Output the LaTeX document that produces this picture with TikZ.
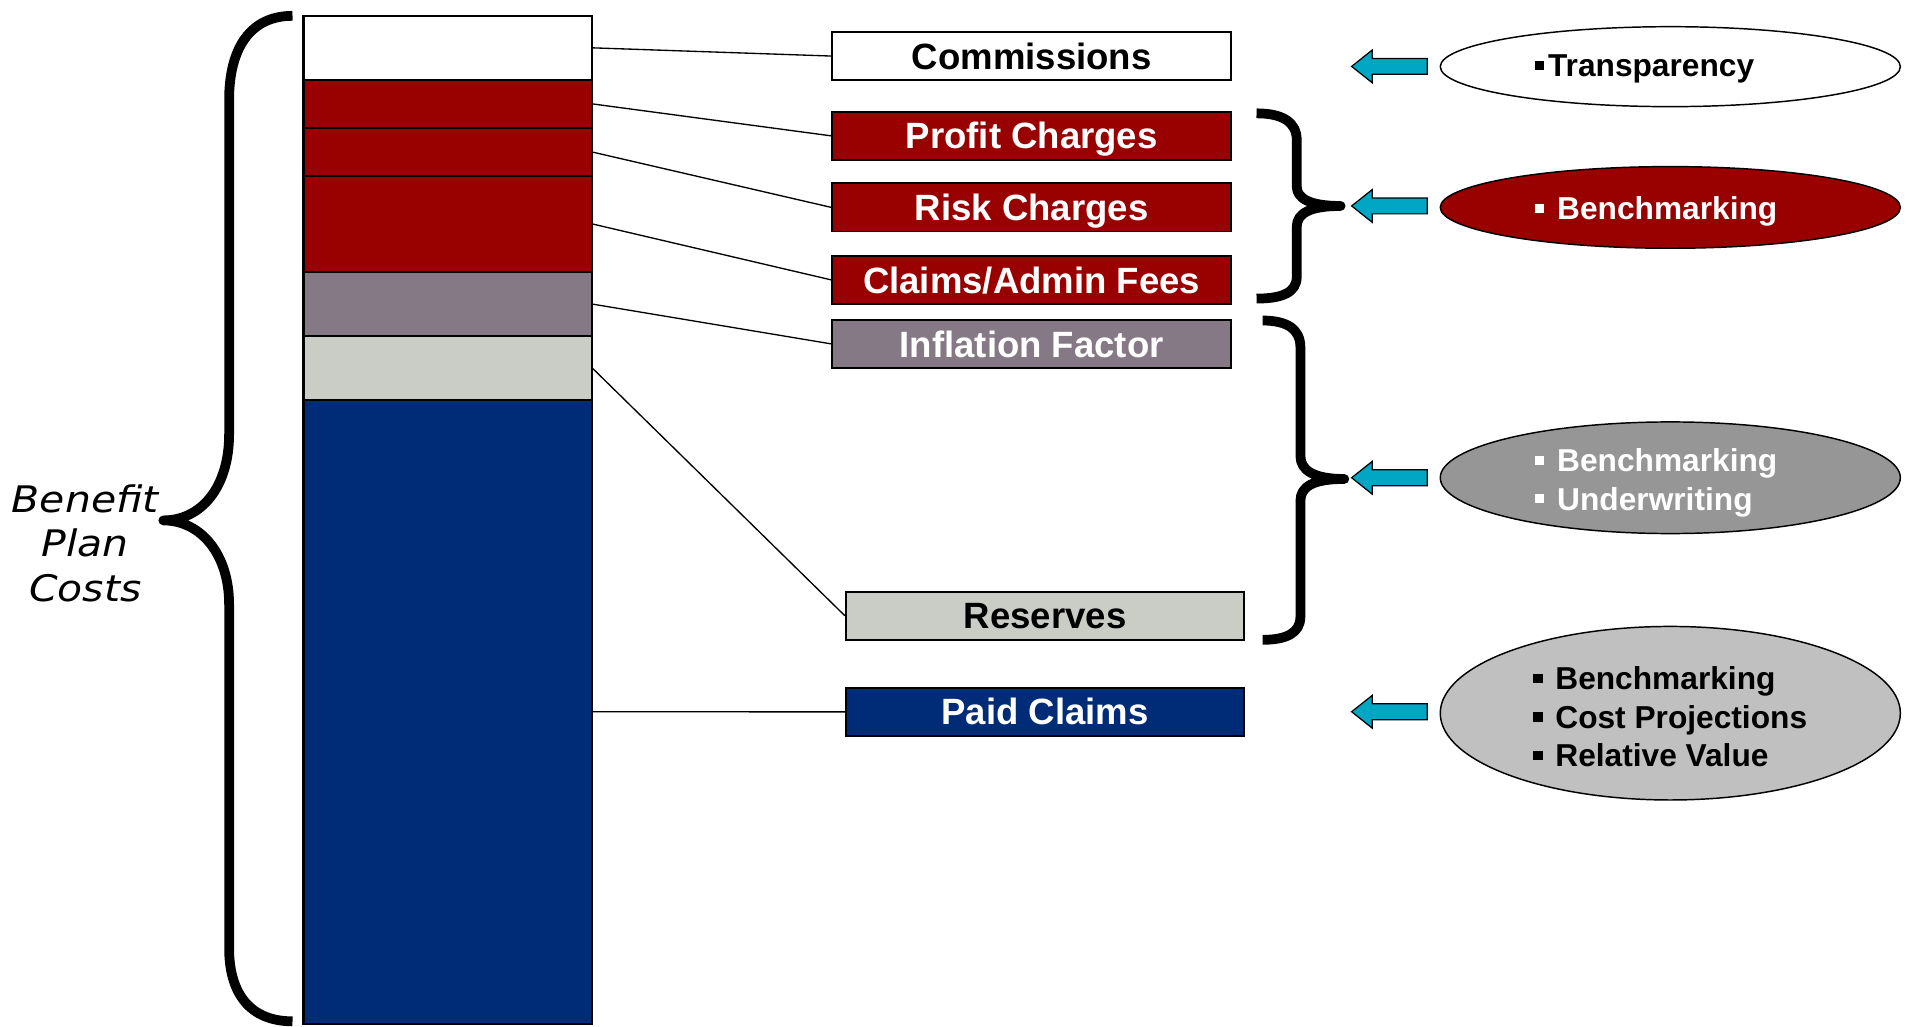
\documentclass[tikz,border=0pt]{standalone}
\usepackage{fontspec}
\setmainfont{Liberation Sans}
\newfontfamily\benefitfont{DejaVu Sans}[FakeStretch=1.12]
\usetikzlibrary{shapes.geometric}

\definecolor{costred}{HTML}{990000}
\definecolor{costmauve}{HTML}{857986}
\definecolor{costlight}{HTML}{CACDC6}
\definecolor{costnavy}{HTML}{002B77}
\definecolor{ovalgray}{HTML}{969696}
\definecolor{ovallight}{HTML}{C0C0C0}
\definecolor{arrowcyan}{HTML}{00A6C4}

% small square bullet, with and without a following gap
\newcommand\sqbullet{\rule[5.5pt]{7.5pt}{7.5pt}}
\newcommand\sqitem{\sqbullet\hspace{10.5pt}}

\begin{document}
\begin{tikzpicture}[x=1pt,y=-1pt,
  seg/.style={draw=black, line width=1.7pt, minimum width=237pt, inner sep=0pt,
              outer sep=0pt, anchor=north west},
  lbl/.style={draw=black, line width=1.6pt, minimum width=327pt, minimum height=39.5pt,
              inner sep=0pt, font=\fontsize{30}{36}\selectfont\bfseries,
              text height=21.5pt, text depth=0pt},
  oval/.style={ellipse, draw=black, line width=1.2pt, minimum width=377.5pt, inner sep=0pt},
  ovaltext/.style={anchor=base west, inner sep=0pt, font=\fontsize{26}{31}\selectfont\bfseries},
  conn/.style={draw=black, line width=1.1pt},
  brace/.style={draw=black, line width=8pt, line cap=butt, line join=round},
  benefit/.style={anchor=base, inner sep=0pt, font=\benefitfont\itshape\fontsize{30}{36}\selectfont},
  leftarrow/.pic={\draw[fill=arrowcyan, draw=black, line width=1pt]
      (0,0) -- (17,-13.5) -- (17,-6.5) -- (62,-6.5) -- (62,6.5) -- (17,6.5) -- (17,13.5) -- cycle;}
]
\useasboundingbox (0,0) rectangle (1568,841.85);

% stacked cost bar
\node[seg, fill=white,      minimum height=52.5pt] (s1) at (249,13)    {};
\node[seg, fill=costred,    minimum height=39.5pt] (s2) at (249,65.5)  {};
\node[seg, fill=costred,    minimum height=39.5pt] (s3) at (249,105)   {};
\node[seg, fill=costred,    minimum height=78.5pt] (s4) at (249,144.5) {};
\node[seg, fill=costmauve,  minimum height=53pt]   (s5) at (249,223)   {};
\node[seg, fill=costlight,  minimum height=52pt]   (s6) at (249,276)   {};
\node[seg, fill=costnavy,   minimum height=512pt]  (s7) at (249,328)   {};

% component labels
\node[lbl, fill=white]                  (b1) at (846.5,46)    {Commissions};
\node[lbl, fill=costred, text=white]    (b2) at (846.5,111.5) {Profit Charges};
\node[lbl, fill=costred, text=white]    (b3) at (846.5,170.2) {Risk Charges};
\node[lbl, fill=costred, text=white]    (b4) at (846.5,229.7) {Claims/Admin Fees};
\node[lbl, fill=costmauve, text=white]  (b5) at (846.5,282.2) {Inflation Factor};
\node[lbl, fill=costlight]              (b6) at (857.5,505.2) {Reserves};
\node[lbl, fill=costnavy, text=white]   (b7) at (857.5,584.1) {Paid Claims};

% leader lines from bar segments to labels
\draw[conn] (s1.east) -- (b1.west);
\draw[conn] (s2.east) -- (b2.west);
\draw[conn] (s3.east) -- (b3.west);
\draw[conn] (s4.east) -- (b4.west);
\draw[conn] (s5.east) -- (b5.west);
\draw[conn] (s6.east) -- (b6.west);
\draw[conn] (s7.east) -- (b7.west);

% brace around the whole bar
\draw[brace] (240,13) .. controls (205,13) and (188,40) .. (188,82)
  -- (188,356) .. controls (188,400) and (165,427) .. (134,427)
  .. controls (165,427) and (188,455) .. (188,496)
  -- (188,778) .. controls (188,815) and (205,838) .. (240,838);
\node[benefit] (bp1) at (70,420.6) {Benefit};
\node[benefit] (bp2) at (70,456.4) {Plan};
\node[benefit] (bp3) at (70,493.8) {Costs};

% braces grouping the labels
\draw[brace] (1031,93) .. controls (1052,93) and (1064,100) .. (1064,115)
  -- (1064,153) .. controls (1064,163) and (1075,169) .. (1100,169)
  .. controls (1075,169) and (1064,175) .. (1064,186)
  -- (1064,227) .. controls (1064,240) and (1052,245) .. (1031,245);
\draw[brace] (1036,263) .. controls (1056,263) and (1067,270) .. (1067,285)
  -- (1067,374) .. controls (1067,386) and (1078,393) .. (1103,393)
  .. controls (1078,393) and (1067,399) .. (1067,411)
  -- (1067,506) .. controls (1067,519) and (1056,525) .. (1036,525);

% pointer arrows
\pic at (1109,54.5) {leftarrow};
\pic at (1109,169)  {leftarrow};
\pic at (1109,392)  {leftarrow};
\pic at (1109,584)  {leftarrow};

% review activities
\node[oval, fill=white,     minimum height=65.6pt]  (e1) at (1370.5,54.7)  {};
\node[oval, fill=costred,   minimum height=67pt]    (e2) at (1370.5,170.2) {};
\node[oval, fill=ovalgray,  minimum height=91.6pt]  (e3) at (1370.5,392)   {};
\node[oval, fill=ovallight, minimum height=142.4pt] (e4) at (1370.5,585.2) {};

\node[ovaltext]             (t1) at (1259.5,63)    {\sqbullet\hspace{3pt}Transparency};
\node[ovaltext, text=white] (t2) at (1259.5,180.5) {\sqitem Benchmarking};
\node[ovaltext, text=white] (t3) at (1259.5,387)   {\sqitem Benchmarking};
\node[ovaltext, text=white] (t4) at (1259.5,418.5) {\sqitem Underwriting};
\node[ovaltext]             (t5) at (1258,566)     {\sqitem Benchmarking};
\node[ovaltext]             (t6) at (1258,597.6)   {\sqitem Cost Projections};
\node[ovaltext]             (t7) at (1258,629)     {\sqitem Relative Value};
\end{tikzpicture}
\end{document}
